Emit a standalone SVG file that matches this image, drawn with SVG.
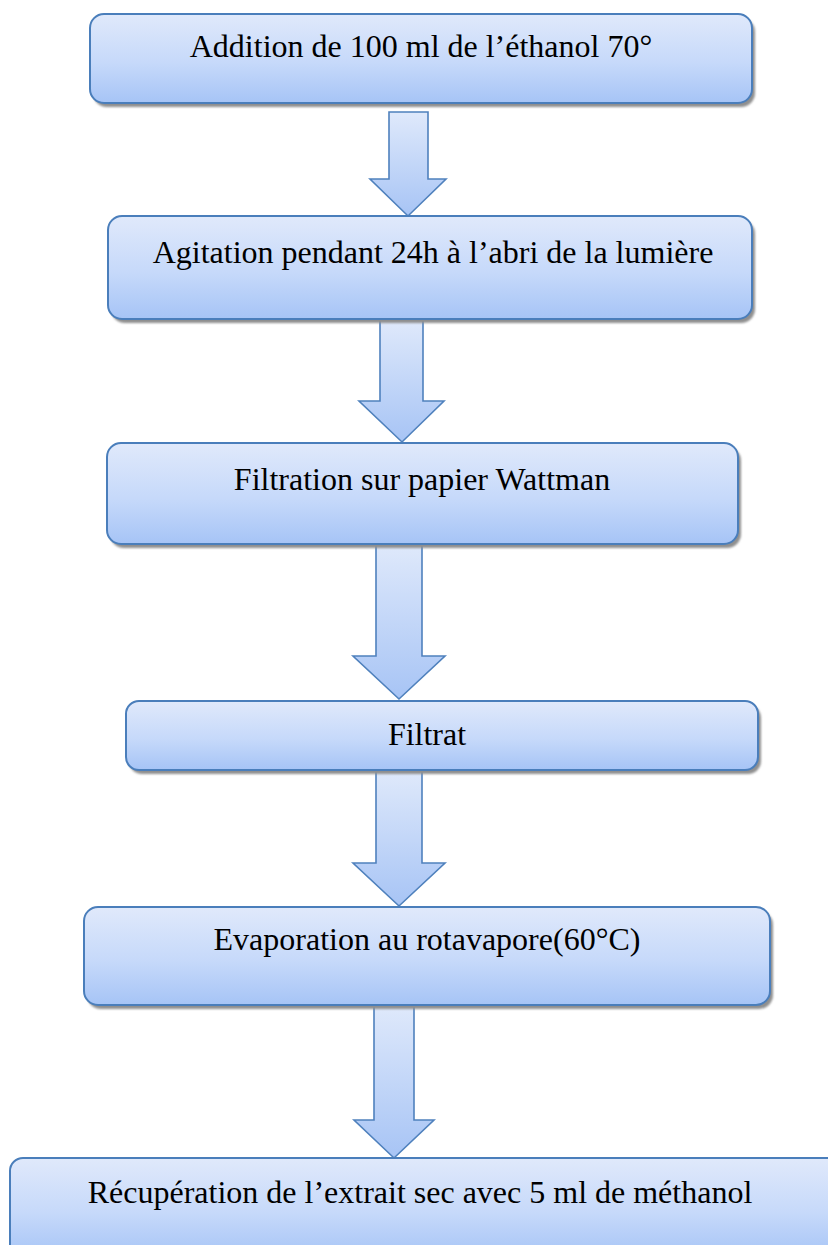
<svg xmlns="http://www.w3.org/2000/svg" width="828" height="1245" viewBox="0 0 828 1245">
<defs>
<linearGradient id="gBox" x1="0" y1="0" x2="0" y2="1">
<stop offset="0" stop-color="#e0e9fb"/>
<stop offset="0.55" stop-color="#c6d9fa"/>
<stop offset="1" stop-color="#a6c4f6"/>
</linearGradient>
<linearGradient id="gArr" x1="0" y1="0" x2="0" y2="1">
<stop offset="0" stop-color="#dfe9fb"/>
<stop offset="1" stop-color="#a7c4f5"/>
</linearGradient>
<filter id="sh" x="-5%" y="-10%" width="110%" height="130%">
<feGaussianBlur stdDeviation="1"/>
</filter>
</defs>
<style>
.box{fill:url(#gBox);stroke:#4a7ebb;stroke-width:2}
.shadow{fill:#8f8f8f;filter:url(#sh)}
.arr{fill:url(#gArr);stroke:#4f81bd;stroke-width:1.6;stroke-linejoin:miter}
.t{font-family:"Liberation Serif","Times New Roman",serif;font-size:32px;fill:#000;text-anchor:middle}
</style>
<rect width="828" height="1245" fill="#fff"/>
<g id="connectors">
<path class="arr" d="M389,112 H428 V179 H446 L408,216 L370,179 H389 Z"/>
<path class="arr" d="M380,320 H423 V401 H444 L402,442 L359,401 H380 Z"/>
<path class="arr" d="M376,544 H422 V656 H445 L399,699 L353,656 H376 Z"/>
<path class="arr" d="M376,771 H422 V863 H445 L399,906 L353,863 H376 Z"/>
<path class="arr" d="M374,1005 H414 V1120 H434 L394,1158 L354,1120 H374 Z"/>
</g>
<g id="n1">
<rect class="shadow" x="93" y="18" width="662" height="89" rx="14"/>
<rect class="box" x="90" y="14" width="662" height="89" rx="14"/>
<text class="t" x="421" y="57">Addition de 100 ml de l’éthanol 70°</text>
</g>
<g id="n2">
<rect class="shadow" x="111" y="220" width="644" height="103" rx="14"/>
<rect class="box" x="108" y="216" width="644" height="103" rx="14"/>
<text class="t" x="433" y="263">Agitation pendant 24h à l’abri de la lumière</text>
</g>
<g id="n3">
<rect class="shadow" x="110" y="447" width="631" height="101" rx="14"/>
<rect class="box" x="107" y="443" width="631" height="101" rx="14"/>
<text class="t" x="422" y="490">Filtration sur papier Wattman</text>
</g>
<g id="n4">
<rect class="shadow" x="129" y="705" width="632" height="69" rx="13"/>
<rect class="box" x="126" y="701" width="632" height="69" rx="13"/>
<text class="t" x="427" y="745">Filtrat</text>
</g>
<g id="n5">
<rect class="shadow" x="87" y="911" width="686" height="98" rx="14"/>
<rect class="box" x="84" y="907" width="686" height="98" rx="14"/>
<text class="t" x="427" y="950">Evaporation au rotavapore(60°C)</text>
</g>
<g id="n6">
<rect class="box" x="10" y="1158" width="830" height="100" rx="13"/>
<text class="t" x="420" y="1203">Récupération de l’extrait sec avec 5 ml de méthanol</text>
</g>
</svg>
